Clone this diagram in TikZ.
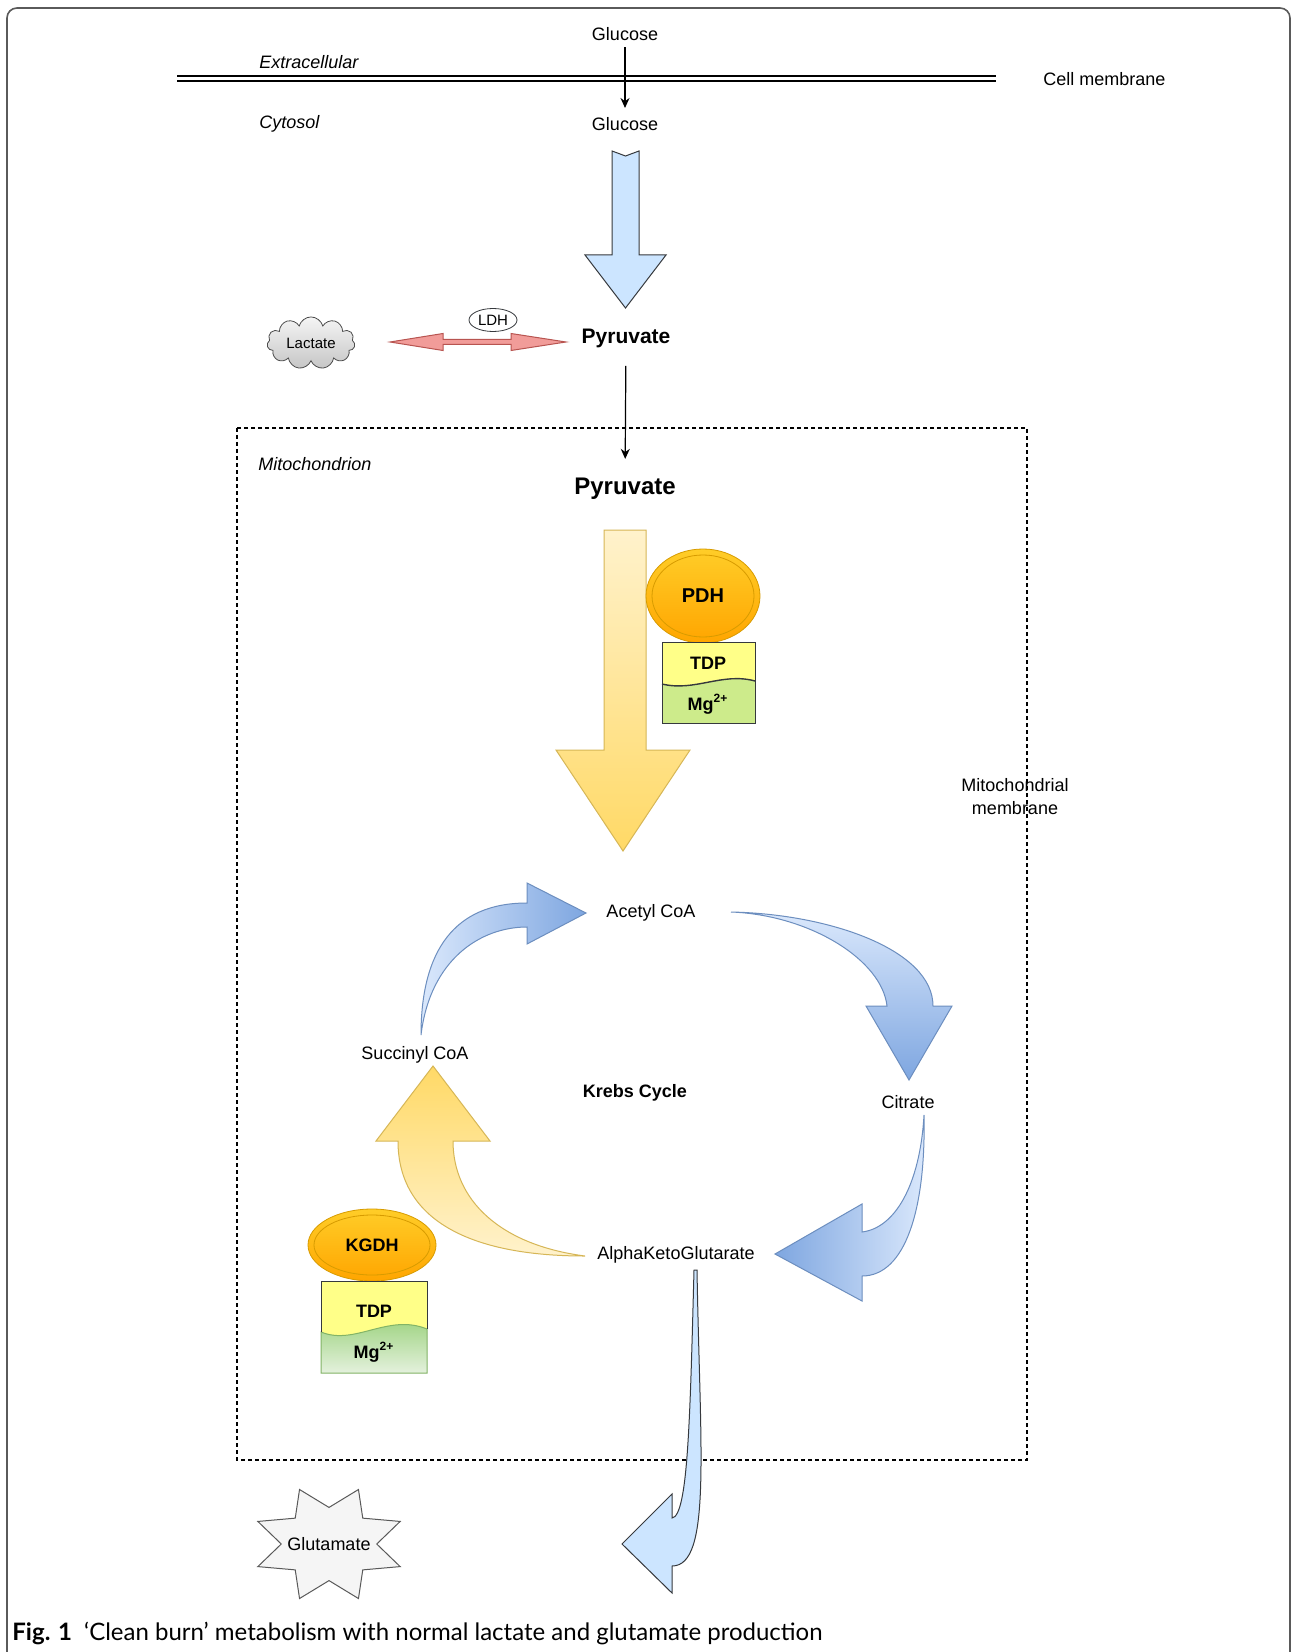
\documentclass[tikz,border=0pt]{standalone}
\usepackage{fontspec}
\setmainfont{Liberation Sans}
\newfontfamily\capfont{Lato}
\usetikzlibrary{shapes.geometric,shapes.symbols,arrows.meta}
\definecolor{bluefill}{HTML}{CCE5FF}
\definecolor{darkline}{HTML}{36393D}
\definecolor{bluelight}{HTML}{DAE8FC}
\definecolor{bluedark}{HTML}{7EA6E0}
\definecolor{blueline}{HTML}{6C8EBF}
\definecolor{yellowlight}{HTML}{FFF2CC}
\definecolor{yellowdark}{HTML}{FFD966}
\definecolor{yellowline}{HTML}{D6B656}
\definecolor{orangetop}{HTML}{FFCD28}
\definecolor{orangebot}{HTML}{FFA500}
\definecolor{orangeline}{HTML}{D79B00}
\definecolor{tdpyellow}{HTML}{FFFF88}
\definecolor{mgflat}{HTML}{CDEB8B}
\definecolor{mgtop}{HTML}{97D077}
\definecolor{mgbot}{HTML}{E4F1DD}
\definecolor{mgline}{HTML}{82B366}
\definecolor{redfill}{HTML}{F19C99}
\definecolor{redline}{HTML}{B85450}
\definecolor{framegray}{HTML}{5A5A5A}
\begin{document}
\begin{tikzpicture}[x=0.5pt,y=-0.5pt,
	lbl/.style={inner sep=0pt,font=\fontsize{9}{11.5}\selectfont},
	ital/.style={inner sep=0pt,anchor=west,font=\fontsize{9}{11}\selectfont\itshape},
	pyr/.style={inner sep=0pt,font=\bfseries\fontsize{#1}{14}\selectfont},
	cof/.style={inner sep=0pt,font=\bfseries\fontsize{9}{11}\selectfont},
	enzyme/.style={ellipse,draw=orangeline,top color=orangetop,bottom color=orangebot,inner sep=0pt,font=\bfseries\fontsize{#1}{12}\selectfont},
	flow/.style={line width=0.6pt,-{Stealth[length=5pt,width=4.5pt]}},
	bluearrow/.style={draw=blueline,line width=0.5pt},
	yellowarrow/.style={draw=yellowline,line width=0.5pt}]
	\useasboundingbox (0,0) rectangle (1292,1652);
	\fill[white] (0,0) rectangle (1292,1652);
	\draw[framegray,line width=0.8pt,rounded corners=5pt] (7,1660) -- (7,8) -- (1290,8) -- (1290,1660);
	\path (625,34) node(glcout)[lbl]{Glucose}
		(625,124) node(glcin)[lbl]{Glucose}
		(259,62) node(extra)[ital]{Extracellular}
		(259,124) node(cytosol)[ital]{Cytosol}
		(1043,79) node(cellmem)[lbl,anchor=west]{Cell membrane}
		(626,338) node(pyrout)[pyr=10.5]{Pyruvate}
		(625,489) node(pyrin)[pyr=12]{Pyruvate}
		(258,464) node(mito)[ital]{Mitochondrion}
		(1015,797) node(mitomem)[lbl,align=center]{Mitochondrial\\membrane};
	\draw[line width=0.75pt] (177,76) -- (996,76);
	\draw[line width=0.75pt] (177,81) -- (996,81);
	\draw[flow,shorten <=3pt,shorten >=4.5pt] (glcout) to (glcin);
	\draw[flow,shorten <=9pt,shorten >=9.5pt] (pyrout) to (pyrin);
	\path[draw=darkline,fill=bluefill,line width=0.5pt] (612,151) -- (625.5,156) -- (639,151) -- (639,255) -- (666,255) -- (625.5,308) -- (585,255) -- (612,255) -- cycle;
	\node(lactate)[cloud,cloud puffs=11,aspect=1.8,draw=gray!60!black,top color=gray!8,bottom color=gray!45,minimum width=44pt,minimum height=24pt,inner sep=0pt,font=\fontsize{7.5}{9}\selectfont] at (311,343) {Lactate};
	\node(ldh)[ellipse,draw=darkline,fill=white,minimum width=24pt,minimum height=11.5pt,inner sep=0pt,font=\fontsize{7.5}{9}\selectfont] at (493,320) {LDH};
	\path[draw=redline,fill=redfill,line width=0.5pt] (390,342) -- (443,333.5) -- (443,339.5) -- (511,339.5) -- (511,333.5) -- (566,342) -- (511,350.5) -- (511,344.5) -- (443,344.5) -- (443,350.5) -- cycle;
	\draw[dash pattern=on 2pt off 1.5pt,line width=0.6pt] (237,428) rectangle (1027,1460);
	\path[yellowarrow,top color=yellowlight,bottom color=yellowdark] (604,530) -- (646,530) -- (646,750) -- (690,750) -- (623,851) -- (556,750) -- (604,750) -- cycle;
	\node(pdh)[enzyme=10,minimum width=57pt,minimum height=47pt] at (703,596) {PDH};
	\draw[orangeline,line width=0.4pt] (pdh.center) ellipse [x radius=25.5pt,y radius=20.5pt];
	\path[fill=tdpyellow] (662,642) rectangle (755,723);
	\path[fill=mgflat] (662,684) .. controls (695,692) and (722,672) .. (755,681) -- (755,723) -- (662,723) -- cycle;
	\draw[darkline,line width=0.7pt] (662,684) .. controls (695,692) and (722,672) .. (755,681);
	\draw[darkline,line width=0.5pt] (662,642) rectangle (755,723);
	\path (708,663) node(tdpa)[cof]{TDP}
		(708,704) node(mga)[cof]{Mg\textsuperscript{2+}};
	\path (651,913) node(acetyl)[lbl]{Acetyl CoA}
		(415,1055) node(succinyl)[lbl]{Succinyl CoA}
		(635,1093) node(krebs)[cof]{Krebs Cycle}
		(908,1102) node(citrate)[lbl]{Citrate}
		(676,1255) node(akg)[lbl]{AlphaKetoGlutarate};
	\path[bluearrow,left color=bluelight,right color=bluedark] (421,1035) .. controls (421,950) and (455,903) .. (527,903) -- (527,883) -- (586,913) -- (527,944) -- (527,927) .. controls (480,927) and (430,960) .. (421,1035) -- cycle;
	\path[bluearrow,top color=bluelight,bottom color=bluedark] (731,912) .. controls (830,914) and (933,950) .. (933,1006) -- (952,1006) -- (909,1080) -- (866,1006) -- (887,1006) .. controls (882,960) and (810,915) .. (731,912) -- cycle;
	\path[bluearrow,left color=bluedark,right color=bluelight] (924,1115) .. controls (926,1210) and (905,1276) .. (862,1276) -- (862,1301) -- (775,1254) -- (862,1204) -- (862,1232) .. controls (895,1228) and (920,1185) .. (924,1115) -- cycle;
	\path[yellowarrow,top color=yellowdark,bottom color=yellowlight] (585,1256) .. controls (470,1256) and (398,1220) .. (398,1141) -- (376,1141) -- (433,1066) -- (490,1141) -- (453,1141) .. controls (453,1200) and (500,1245) .. (585,1256) -- cycle;
	\node(kgdh)[enzyme=9,minimum width=64pt,minimum height=36pt] at (372,1245) {KGDH};
	\draw[orangeline,line width=0.4pt] (kgdh.center) ellipse [x radius=29pt,y radius=15pt];
	\path[fill=tdpyellow] (321,1281) rectangle (427,1373);
	\path[draw=mgline,line width=0.5pt,top color=mgtop,bottom color=mgbot] (321,1332) .. controls (355,1346) and (388,1313) .. (427,1329) -- (427,1373) -- (321,1373) -- cycle;
	\draw[darkline,line width=0.5pt] (321,1332) -- (321,1281) -- (427,1281) -- (427,1329);
	\path (374,1311) node(tdpb)[cof]{TDP}
		(374,1352) node(mgb)[cof]{Mg\textsuperscript{2+}};
	\draw[draw=gray!70!black,fill=gray!8,line width=0.5pt] ({329+77*0.62},1544) \foreach \k [evaluate=\k as \f using {ifthenelse(mod(\k,2)==1,1,0.62)}] in {1,...,15} { -- ({329+77*\f*cos(\k*22.5)},{1544+59*\f*sin(\k*22.5)}) } -- cycle;
	\node(glu)[lbl] at (329,1544) {Glutamate};
	\path[draw=darkline,fill=bluefill,line width=0.5pt] (697,1270) .. controls (700,1450) and (712,1566) .. (672,1566) -- (672,1593) -- (622,1544) -- (672,1494) -- (672,1518) .. controls (688,1516) and (690,1420) .. (694,1270) -- cycle;
	\node(caption)[anchor=west,inner sep=0pt,font=\capfont\fontsize{12}{14}\selectfont] at (12,1633) {\textbf{Fig. 1}\hspace{6pt}‘Clean burn’ metabolism with normal lactate and glutamate production};
\end{tikzpicture}
\end{document}
